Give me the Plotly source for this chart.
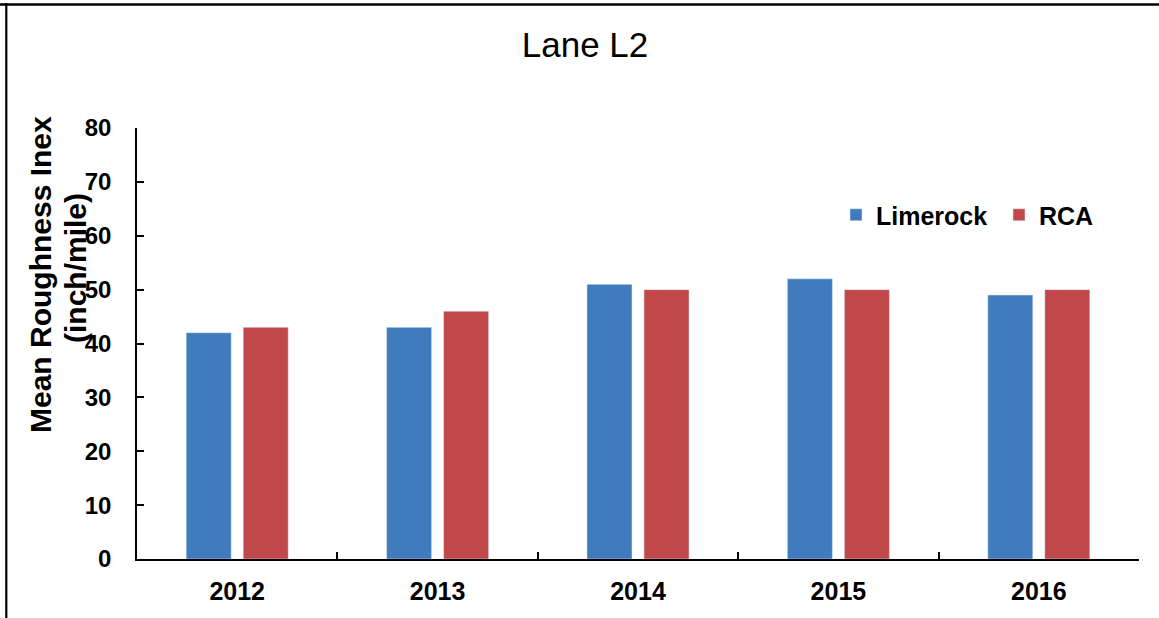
import plotly.graph_objects as go

years = ["2012", "2013", "2014", "2015", "2016"]
limerock = [42, 43, 51, 52, 49]
rca = [43, 46, 50, 50, 50]
series_names = ["Limerock", "RCA"]
y_ticks = [0, 10, 20, 30, 40, 50, 60, 70, 80]

W, H = 1159, 618
L, R, T, B = 137, 20, 128, 59
pw, ph = W - L - R, H - T - B

def px_x(x):
    return (x - L) / pw

def px_y(y):
    return (H - B - y) / ph

FONT = "Arial, Liberation Sans, sans-serif"
LEG_FONT = dict(size=25, family=FONT, color="black", weight="bold")

fig = go.Figure()
fig.add_trace(go.Bar(x=years, y=limerock, name=series_names[0], marker_color="#407CBD",
                     legend="legend"))
fig.add_trace(go.Bar(x=years, y=rca, name=series_names[1], marker_color="#C0474A",
                     legend="legend2"))

fig.update_layout(
    width=W, height=H,
    margin=dict(l=L, r=R, t=T, b=B, pad=0),
    paper_bgcolor="white", plot_bgcolor="white",
    barmode="group", bargap=0.431, bargroupgap=0.21,
    font=dict(family=FONT, color="black"),
    title=dict(text="Lane L2", x=585 / W, xanchor="center", y=1 - 45 / H, yanchor="middle",
               font=dict(size=35, family=FONT, color="black")),
    legend=dict(orientation="h", x=px_x(836), xanchor="left", y=px_y(215), yanchor="middle",
                font=LEG_FONT, bgcolor="rgba(0,0,0,0)", itemwidth=30),
    legend2=dict(orientation="h", x=px_x(999), xanchor="left", y=px_y(215), yanchor="middle",
                 font=LEG_FONT, bgcolor="rgba(0,0,0,0)", itemwidth=30),
    showlegend=True,
)

fig.update_xaxes(
    type="category", showline=True, linecolor="black", linewidth=1.5,
    ticks="inside", ticklen=7, tickcolor="black", tickwidth=1.5, tickson="boundaries",
    tickfont=dict(size=25, family=FONT, color="black", weight="bold"),
    ticklabelstandoff=9, showgrid=False, zeroline=False,
)
fig.update_yaxes(
    range=[0, 80], tickvals=y_ticks, showline=True, linecolor="black", linewidth=1.5,
    ticks="inside", ticklen=7, tickcolor="black", tickwidth=1.5,
    tickfont=dict(size=24, family=FONT, color="black", weight="bold"),
    ticklabelstandoff=19, showgrid=False, zeroline=False,
)

fig.add_annotation(
    text="<b>Mean Roughness Inex</b>", textangle=-90,
    xref="paper", yref="paper", x=px_x(40), y=px_y(275), xanchor="center", yanchor="middle",
    showarrow=False, font=dict(size=30, family=FONT, color="black"),
)
fig.add_annotation(
    text="<b>(inch/mile)</b>", textangle=-90,
    xref="paper", yref="paper", x=px_x(75), y=px_y(268), xanchor="center", yanchor="middle",
    showarrow=False, font=dict(size=30, family=FONT, color="black"),
)

# outer frame (top and left edges visible)
fig.add_shape(type="line", xref="paper", yref="paper", x0=px_x(0), x1=px_x(W + 5),
              y0=px_y(4.5), y1=px_y(4.5), line=dict(color="black", width=2.5))
fig.add_shape(type="line", xref="paper", yref="paper", x0=px_x(6.3), x1=px_x(6.3),
              y0=px_y(3), y1=px_y(H + 5), line=dict(color="black", width=2.2))

fig.write_html("out.html", config={"displayModeBar": False},
               post_script="document.body.style.margin='0';")
